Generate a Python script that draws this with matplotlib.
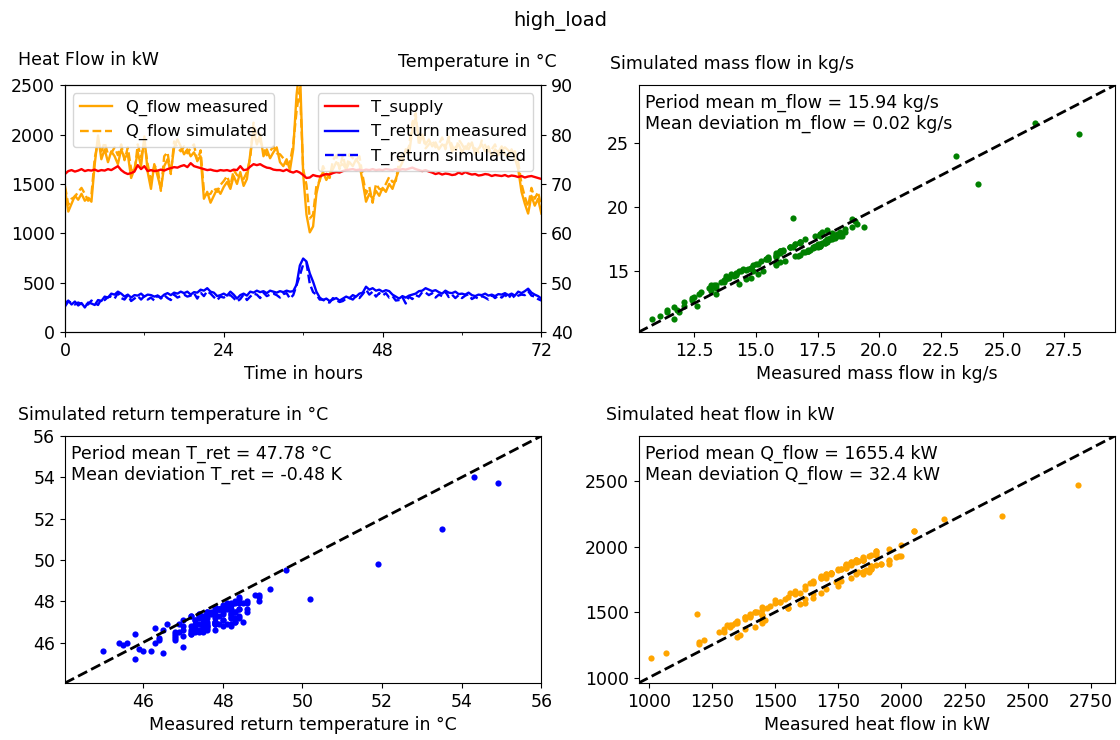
import numpy as np
import matplotlib
matplotlib.use("Agg")
import matplotlib.pyplot as plt
from matplotlib.ticker import MultipleLocator

# time axis, half-hour steps over 3 days
hours = np.arange(0, 72.5, 0.5)

q_measured = [
    1450, 1220, 1300, 1380, 1340, 1400, 1330, 1360, 1320, 1700, 1990, 1750,
    1850, 1720, 1830, 1780, 1700, 1850, 1760, 1800, 1560, 1650, 1820, 1680,
    1980, 1620, 1450, 1700, 1580, 1450, 1680, 1750, 1620, 1870, 1950, 1880,
    1800, 1850, 1780, 1820, 1740, 1780, 1350, 1420, 1310, 1380, 1450, 1400,
    1470, 1520, 1450, 1580, 1500, 1620, 1480, 1550, 1800, 2050, 1900, 2000,
    1780, 1850, 1760, 1820, 1870, 1720, 1680, 1750, 1640, 1850, 2400, 2700,
    1600, 1190, 1010, 1070, 1400, 1550, 1620, 1540, 1600, 1650, 1720, 1680,
    1700, 1650, 1720, 1680, 1750, 1700, 1520, 1320, 1400, 1350, 1430, 1380,
    1460, 1420, 1500, 1450, 1550, 1650, 1720, 1850, 1800, 2050, 2170, 1950,
    2000, 1900, 1950, 1880, 1920, 1850, 1900, 1880, 1950, 1830, 1870, 1900,
    1820, 1880, 1850, 1920, 1800, 1860, 1900, 1830, 1880, 1780, 1850, 1820,
    1880, 1800, 1780, 1850, 1760, 1650, 1420, 1300, 1200, 1380, 1280, 1350,
    1200]
q_simulated = [
    1480, 1290, 1350, 1370, 1420, 1460, 1400, 1330, 1390, 1760, 1930, 1830,
    1920, 1800, 1810, 1870, 1790, 1900, 1740, 1870, 1650, 1610, 1900, 1770,
    1920, 1700, 1540, 1680, 1660, 1430, 1780, 1820, 1600, 1930, 1870, 1830,
    1880, 1810, 1860, 1900, 1730, 1840, 1430, 1390, 1400, 1460, 1420, 1490,
    1530, 1580, 1480, 1640, 1590, 1570, 1550, 1620, 1760, 2120, 1970, 1930,
    1860, 1790, 1830, 1880, 1810, 1800, 1760, 1700, 1720, 1900, 2235, 2470,
    1650, 1490, 1150, 1190, 1480, 1530, 1680, 1600, 1560, 1740, 1790, 1650,
    1790, 1640, 1800, 1760, 1740, 1780, 1580, 1400, 1470, 1310, 1500, 1450,
    1440, 1500, 1570, 1520, 1530, 1730, 1800, 1810, 1880, 2120, 2215, 1890,
    2010, 1860, 1900, 1940, 1870, 1900, 1970, 1850, 1980, 1890, 1820, 1950,
    1900, 1840, 1910, 1870, 1860, 1820, 1940, 1890, 1830, 1850, 1900, 1790,
    1850, 1870, 1840, 1810, 1830, 1720, 1500, 1370, 1270, 1460, 1350, 1420,
    1260]

t_supply = [
    72.0, 72.6, 72.8, 72.5, 72.7, 73.0, 72.6, 72.8, 72.7, 72.9, 72.6, 72.8,
    72.7, 73.0, 72.8, 73.2, 73.6, 72.8, 72.3, 72.0, 72.2, 72.5, 73.8, 73.0,
    73.6, 72.6, 72.8, 72.6, 72.7, 72.9, 72.7, 73.0, 73.2, 73.4, 73.3, 73.6,
    73.8, 73.4, 74.2, 73.6, 73.4, 73.2, 73.0, 72.8, 72.9, 72.7, 72.6, 72.8,
    72.7, 72.8, 72.6, 72.9, 72.8, 73.6, 72.8, 72.9, 73.5, 74.0, 73.8, 74.0,
    73.6, 73.3, 73.2, 72.9, 72.8, 72.8, 72.6, 72.9, 72.5, 72.3, 72.6, 72.3,
    71.8, 71.2, 71.3, 71.8, 71.6, 71.5, 71.8, 72.0, 71.9, 72.2, 72.4, 72.3,
    72.6, 72.8, 72.9, 73.0, 72.8, 72.9, 72.7, 72.9, 72.8, 73.0, 72.8, 72.9,
    72.8, 73.0, 72.9, 72.8, 73.0, 72.8, 73.0, 72.9, 73.1, 73.3, 73.0, 72.8,
    72.6, 72.8, 72.5, 72.3, 72.0, 72.2, 71.9, 72.1, 72.0, 71.8, 71.9, 72.3,
    72.0, 72.4, 72.1, 71.9, 72.0, 71.7, 71.8, 72.0, 71.9, 71.6, 71.8, 71.7,
    71.6, 71.8, 71.5, 71.7, 71.6, 71.4, 71.6, 71.3, 71.5, 71.6, 71.4, 71.2,
    71.0]

t_return_measured = [
    45.8, 46.4, 45.6, 46.2, 45.4, 45.9, 45.0, 46.0, 45.8, 45.5, 46.5, 46.3,
    47.2, 47.0, 47.8, 47.6, 48.2, 47.8, 47.2, 47.6, 47.0, 47.5, 47.4, 47.8,
    47.2, 47.6, 47.5, 47.2, 47.4, 47.0, 47.6, 47.9, 47.5, 48.0, 47.8, 48.2,
    47.9, 48.2, 47.6, 48.1, 48.0, 48.6, 48.4, 48.9, 48.2, 48.0, 47.3, 47.5,
    47.8, 47.4, 48.2, 47.6, 46.8, 47.5, 47.8, 47.4, 48.2, 48.0, 48.4, 48.1,
    48.3, 47.9, 48.4, 48.2, 48.0, 48.3, 48.1, 48.4, 48.2, 48.3, 49.6, 53.5,
    54.9, 54.3, 51.9, 50.2, 48.2, 47.0, 46.5, 46.8, 46.3, 46.6, 46.9, 46.4,
    46.8, 47.2, 46.9, 47.5, 47.2, 47.8, 48.0, 49.2, 48.6, 48.9, 48.4, 48.6,
    48.2, 48.5, 48.3, 47.6, 47.2, 46.8, 47.3, 47.0, 47.4, 47.6, 47.8, 48.3,
    48.4, 48.9, 48.6, 48.3, 48.5, 48.1, 47.8, 48.4, 48.0, 47.9, 48.2, 47.7,
    47.8, 47.6, 48.0, 47.5, 47.3, 47.6, 47.5, 47.8, 47.4, 47.6, 47.3, 47.7,
    47.6, 47.9, 47.5, 47.8, 47.4, 48.2, 47.9, 48.3, 48.8, 48.0, 47.6, 47.3,
    46.8]
t_return_simulated = [
    45.2, 46.2, 46.0, 45.6, 46.0, 45.7, 45.6, 45.6, 46.4, 45.9, 45.5, 46.7,
    46.5, 47.1, 47.2, 46.8, 47.9, 46.9, 46.6, 47.5, 46.3, 46.8, 47.3, 46.6,
    47.3, 46.6, 47.0, 46.4, 47.4, 46.8, 47.5, 46.9, 46.5, 47.6, 47.0, 47.3,
    47.6, 47.2, 47.4, 47.9, 46.8, 48.0, 47.3, 48.3, 47.8, 47.1, 46.5, 47.2,
    47.0, 47.4, 47.5, 46.9, 46.2, 46.7, 47.6, 46.5, 47.2, 47.8, 47.6, 46.9,
    48.0, 47.3, 47.6, 47.8, 47.5, 47.0, 47.7, 47.9, 46.8, 47.5, 49.5, 51.5,
    53.7, 54.0, 49.8, 48.1, 47.6, 46.6, 46.6, 46.1, 46.0, 46.9, 46.5, 46.1,
    46.3, 46.8, 46.9, 46.6, 47.3, 46.9, 47.7, 48.6, 47.6, 48.2, 47.2, 47.9,
    47.4, 47.9, 47.0, 47.3, 46.4, 46.5, 47.1, 45.8, 47.2, 46.7, 47.5, 47.2,
    48.1, 48.0, 47.5, 47.9, 47.0, 47.6, 47.3, 48.2, 47.1, 47.6, 46.9, 47.5,
    46.9, 47.4, 47.7, 46.7, 47.1, 46.8, 47.3, 47.0, 46.6, 47.5, 46.9, 47.4,
    47.0, 47.6, 46.8, 47.7, 46.9, 47.4, 47.6, 47.5, 48.3, 47.4, 47.2, 46.7,
    46.4]

m_measured = [
    13.2, 11.1, 11.4, 12.6, 11.7, 12.4, 11.8, 12.1, 11.7, 14.8, 18.2, 15.8,
    17.4, 15.8, 17.5, 16.6, 16.0, 17.7, 16.8, 17.6, 14.8, 15.8, 16.5, 16.0,
    17.9, 15.5, 13.7, 16.0, 14.9, 13.4, 16.0, 16.7, 15.1, 17.6, 18.3, 17.7,
    16.6, 17.6, 16.0, 17.1, 16.4, 17.3, 13.1, 14.2, 12.7, 13.4, 13.7, 13.2,
    14.1, 14.3, 14.2, 14.9, 13.8, 14.8, 14.2, 14.5, 17.0, 18.9, 17.9, 19.4,
    16.8, 17.4, 17.0, 17.6, 18.0, 16.8, 16.4, 17.1, 16.1, 18.4, 23.1, 28.1,
    26.3, 24.0, 12.4, 16.5, 14.3, 15.1, 15.3, 14.6, 15.0, 15.4, 16.1, 15.5,
    15.8, 15.4, 15.8, 15.8, 16.4, 16.2, 14.7, 13.3, 13.8, 13.4, 14.0, 13.6,
    14.2, 13.9, 14.6, 13.8, 14.4, 15.2, 16.0, 17.1, 16.8, 19.1, 19.0, 18.6,
    18.9, 18.2, 18.6, 17.8, 18.4, 17.6, 18.1, 17.9, 18.5, 17.5, 17.8, 18.0,
    17.4, 18.0, 17.7, 18.3, 17.2, 17.8, 18.1, 17.5, 17.9, 16.9, 17.6, 17.3,
    17.9, 17.1, 16.8, 17.6, 16.6, 15.5, 13.2, 12.1, 10.8, 12.8, 11.9, 12.5,
    11.4]
m_simulated = [
    13.5, 11.5, 11.8, 12.3, 12.2, 12.9, 12.0, 12.6, 11.3, 15.3, 17.8, 16.1,
    17.8, 15.6, 17.0, 17.1, 16.4, 17.2, 16.3, 17.9, 15.3, 16.2, 16.9, 15.7,
    17.4, 16.0, 14.3, 16.5, 15.0, 13.9, 16.6, 16.2, 14.8, 17.0, 17.9, 18.1,
    17.1, 17.0, 16.6, 16.6, 16.9, 16.8, 13.7, 14.7, 13.2, 13.2, 14.2, 13.9,
    14.6, 14.0, 14.8, 15.5, 14.4, 14.5, 14.9, 15.2, 16.5, 19.1, 17.4, 18.5,
    17.3, 16.9, 17.5, 17.1, 17.5, 17.3, 16.9, 16.6, 16.7, 17.8, 24.0, 25.7,
    26.6, 21.8, 12.8, 19.2, 15.0, 15.6, 15.0, 15.1, 15.6, 16.0, 16.6, 16.1,
    16.3, 16.0, 15.5, 16.4, 16.9, 15.8, 15.2, 13.9, 14.6, 13.7, 14.8, 14.2,
    14.8, 14.5, 14.4, 14.5, 15.0, 15.8, 16.6, 16.7, 17.3, 18.7, 18.9, 18.1,
    18.5, 17.6, 18.3, 17.2, 18.1, 17.9, 17.5, 18.2, 17.8, 16.9, 17.4, 17.6,
    17.0, 17.5, 17.9, 17.8, 16.7, 17.2, 18.0, 17.1, 17.3, 16.5, 17.8, 16.9,
    17.5, 16.6, 17.2, 17.0, 16.2, 16.0, 13.8, 12.3, 11.3, 13.4, 11.8, 13.0,
    12.0]

plt.rcParams['font.family'] = ['DejaVu Sans']
plt.rcParams['font.size'] = 12.5

fig, axes = plt.subplots(2, 2, figsize=(11.2, 7.4), dpi=100)
fig.subplots_adjust(left=0.058, right=0.9955, top=0.885, bottom=0.077,
                    wspace=0.204, hspace=0.42)
fig.suptitle('high_load', fontsize=14, y=0.985)

# time series
ax1 = axes[0, 0]
ax1.plot(hours, q_measured, color='orange', lw=1.7, label='Q_flow measured')
ax1.plot(hours, q_simulated, color='orange', lw=1.7, ls='--', label='Q_flow simulated')
ax1.set_xlim(0, 72)
ax1.set_ylim(0, 2500)
ax1.xaxis.set_major_locator(MultipleLocator(24))
ax1.xaxis.set_minor_locator(MultipleLocator(12))
ax1.set_xlabel('Time in hours')
ax1.legend(loc='upper left', fontsize=11.8)
ax1.text(-0.099, 1.10, 'Heat Flow in kW', transform=ax1.transAxes, ha='left', va='center')

ax2 = ax1.twinx()
ax2.plot(hours, t_supply, color='red', lw=1.7, label='T_supply')
ax2.plot(hours, t_return_measured, color='blue', lw=1.7, label='T_return measured')
ax2.plot(hours, t_return_simulated, color='blue', lw=1.7, ls='--', label='T_return simulated')
ax2.set_ylim(40, 90)
ax2.legend(loc='upper right', fontsize=11.8)
ax2.text(0.70, 1.093, 'Temperature in °C', transform=ax2.transAxes, ha='left', va='center')


def scatter_panel(ax, x, y, color, lims, xlabel, ylabel, info, lab_x):
    ax.scatter(x, y, s=20, color=color, linewidths=0, zorder=2)
    ax.plot(lims, lims, 'k--', lw=2, zorder=3)
    ax.set_xlim(lims)
    ax.set_ylim(lims)
    ax.set_xlabel(xlabel)
    ax.text(lab_x, 1.085, ylabel, transform=ax.transAxes, ha='left', va='center')
    ax.text(0.013, 0.965, info, transform=ax.transAxes, ha='left', va='top')


ax = axes[0, 1]
scatter_panel(ax, m_measured, m_simulated, 'green', [10.25, 29.55],
              'Measured mass flow in kg/s', 'Simulated mass flow in kg/s',
              'Period mean m_flow = 15.94 kg/s\nMean deviation m_flow = 0.02 kg/s', -0.059)
ax.xaxis.set_major_locator(MultipleLocator(2.5))
ax.yaxis.set_major_locator(MultipleLocator(5))

ax = axes[1, 0]
scatter_panel(ax, t_return_measured, t_return_simulated, 'blue', [44.04, 56.0],
              'Measured return temperature in °C', 'Simulated return temperature in °C',
              'Period mean T_ret = 47.78 °C\nMean deviation T_ret = -0.48 K', -0.099)
ax.xaxis.set_major_locator(MultipleLocator(2))
ax.yaxis.set_major_locator(MultipleLocator(2))

ax = axes[1, 1]
scatter_panel(ax, q_measured, q_simulated, 'orange', [960, 2845],
              'Measured heat flow in kW', 'Simulated heat flow in kW',
              'Period mean Q_flow = 1655.4 kW\nMean deviation Q_flow = 32.4 kW', -0.069)
ax.xaxis.set_major_locator(MultipleLocator(250))
ax.yaxis.set_major_locator(MultipleLocator(500))

fig.savefig('out.png', dpi=100)
